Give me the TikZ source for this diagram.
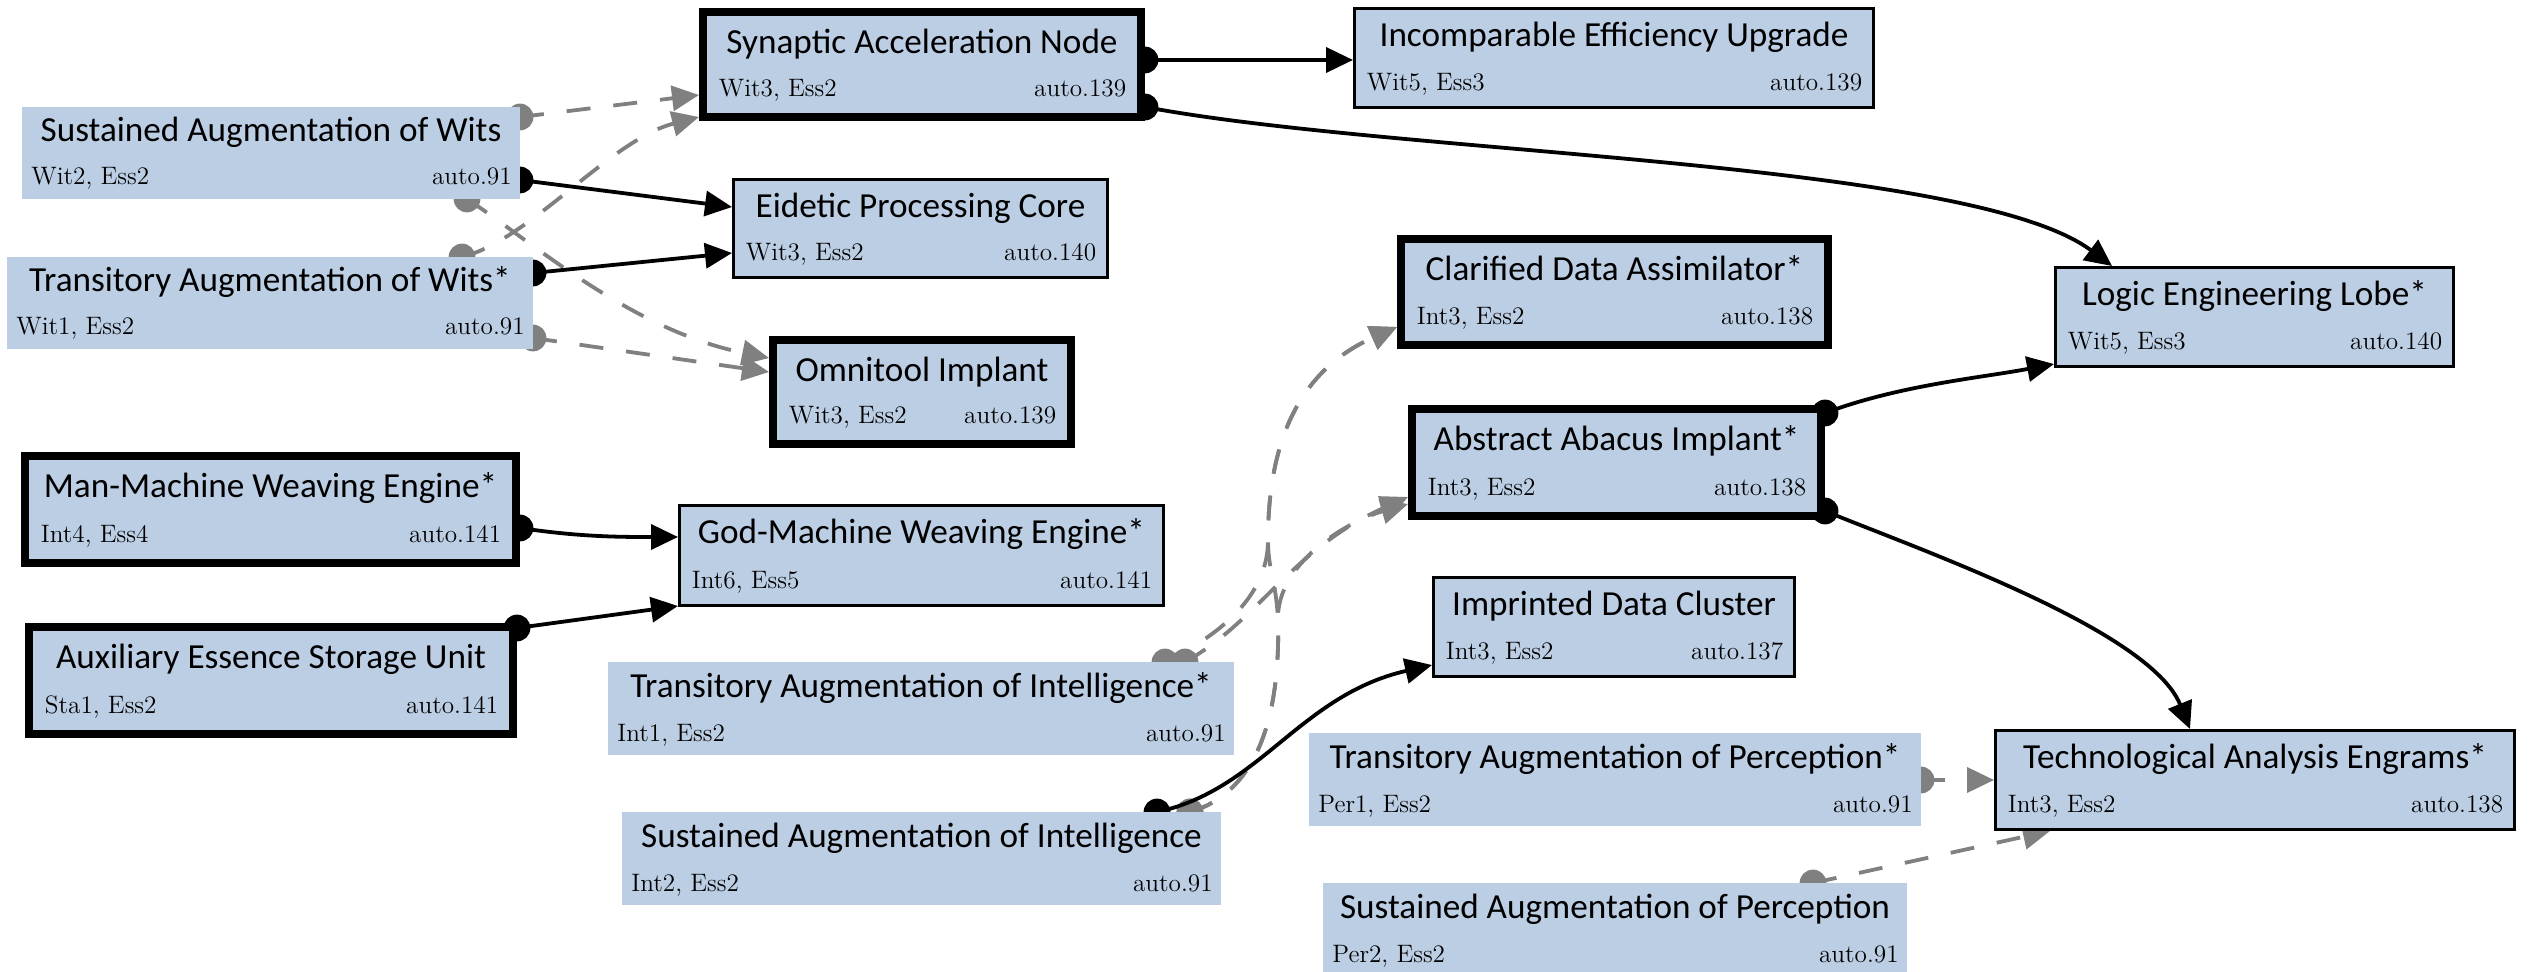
\documentclass[tikz,border=0pt]{standalone}
\usepackage{fontspec}
\newfontfamily\titlefont{Carlito}
\usetikzlibrary{arrows.meta}
\definecolor{boxfill}{RGB}{188,206,228}
\definecolor{edgegray}{RGB}{128,128,128}
\pgfdeclarelayer{bg}
\pgfsetlayers{bg,main}

\tikzset{
  box0/.style={fill=boxfill, draw=none, inner sep=0pt, outer sep=0pt},
  box3/.style={fill=boxfill, draw=black, line width=1.5pt, inner sep=0pt},
  box8/.style={fill=boxfill, draw=black, line width=4pt, inner sep=0pt},
  ttl/.style={inner sep=0pt, font=\titlefont\fontsize{17.6pt}{20pt}\selectfont},
  sub/.style={inner sep=0pt, font=\fontsize{12.6pt}{14pt}\selectfont},
  kedge/.style={draw=black, line width=1.9pt, -{Triangle[length=13.5pt,width=12.5pt]}},
  gedge/.style={draw=edgegray, line width=1.9pt, dash pattern=on 12pt off 11.5pt,
                -{Triangle[length=13.5pt,width=12.5pt]}},
}

% \blk{name}{border px: 0, 3 or 8}{x1}{y1}{x2}{y2}{title}{left note}{right note}
\newcommand\blk[9]{%
  \ifcase#2 \def\bxpad{0}\or\or\or\def\bxpad{4.5}\or\or\or\or\or\def\bxpad{10.5}\fi
  \pgfmathsetmacro\bxw{(#5-#3-#2)*0.5}%
  \pgfmathsetmacro\bxh{(#6-#4-#2)*0.5}%
  \node[box#2, minimum width=\bxw pt, minimum height=\bxh pt] (#1) at ({(#3+#5)/2},{(#4+#6)/2}) {};
  \node[ttl, anchor=base] (#1-t) at ({(#3+#5)/2},{#4+35+\bxpad}) {#7};
  \node[sub, anchor=base west] (#1-l) at ({#3+9+\bxpad},{#6-14-\bxpad}) {#8};
  \node[sub, anchor=base east] (#1-r) at ({#5-8-\bxpad},{#6-14-\bxpad}) {#9};
}

% \lnk{edge style}{tail dot colour}{start point}{rest of path}
\newcommand\lnk[4]{%
  \draw[#1] #3 #4;
  \fill[#2] #3 circle[radius=6.7pt];
}

\begin{document}
\begin{tikzpicture}[x=0.5pt, y=-0.5pt]
\useasboundingbox (0,0) rectangle (2532,972);
\begin{pgfonlayer}{bg}
  \fill[white] (0,0) rectangle (2532,972);
\end{pgfonlayer}

% upgrade blocks
\blk{syn}{8}{699}{8}{1145}{121}{Synaptic Acceleration Node}{Wit3, Ess2}{auto.139}
\blk{ieu}{3}{1353}{7}{1875}{109}{Incomparable Efficiency Upgrade}{Wit5, Ess3}{auto.139}
\blk{saw}{0}{22}{107}{520}{199}{Sustained Augmentation of Wits}{Wit2, Ess2}{auto.91}
\blk{epc}{3}{732}{178}{1109}{279}{Eidetic Processing Core}{Wit3, Ess2}{auto.140}
\blk{taw}{0}{7}{257}{533}{349}{Transitory Augmentation of Wits*}{Wit1, Ess2}{auto.91}
\blk{cda}{8}{1397}{235}{1832}{349}{Clarified Data Assimilator*}{Int3, Ess2}{auto.138}
\blk{lel}{3}{2054}{266}{2455}{368}{Logic Engineering Lobe*}{Wit5, Ess3}{auto.140}
\blk{omi}{8}{769}{336}{1075}{448}{Omnitool Implant}{Wit3, Ess2}{auto.139}
\blk{mmw}{8}{21}{452}{520}{567}{Man-Machine Weaving Engine*}{Int4, Ess4}{auto.141}
\blk{aai}{8}{1408}{405}{1825}{520}{Abstract Abacus Implant*}{Int3, Ess2}{auto.138}
\blk{gmw}{3}{678}{504}{1165}{607}{God-Machine Weaving Engine*}{Int6, Ess5}{auto.141}
\blk{aes}{8}{25}{623}{517}{738}{Auxiliary Essence Storage Unit}{Sta1, Ess2}{auto.141}
\blk{tai}{0}{608}{662}{1234}{755}{Transitory Augmentation of Intelligence*}{Int1, Ess2}{auto.91}
\blk{idc}{3}{1432}{576}{1796}{678}{Imprinted Data Cluster}{Int3, Ess2}{auto.137}
\blk{sai}{0}{622}{812}{1221}{905}{Sustained Augmentation of Intelligence}{Int2, Ess2}{auto.91}
\blk{tap}{0}{1309}{733}{1921}{826}{Transitory Augmentation of Perception*}{Per1, Ess2}{auto.91}
\blk{tae}{3}{1994}{729}{2516}{831}{Technological Analysis Engrams*}{Int3, Ess2}{auto.138}
\blk{sap}{0}{1323}{883}{1907}{976}{Sustained Augmentation of Perception}{Per2, Ess2}{auto.91}

\begin{pgfonlayer}{bg}
  % wits
  \lnk{gedge}{edgegray}{(saw.east |- 0,117)}{-- (syn.west |- 0,95)}
  \lnk{gedge}{edgegray}{(taw.north -| 462,0)}{.. controls (530,240) and (610,140) .. (syn.west |- 0,117)}
  \lnk{gedge}{edgegray}{(saw.south -| 467,0)}{.. controls (530,240) and (630,330) .. (omi.west |- 0,358)}
  \lnk{gedge}{edgegray}{(taw.east |- 0,338)}{-- (omi.west |- 0,372)}
  \lnk{kedge}{black}{(saw.east |- 0,180)}{-- (epc.west |- 0,207)}
  \lnk{kedge}{black}{(taw.east |- 0,273)}{-- (epc.west |- 0,253)}
  \lnk{kedge}{black}{(syn.east |- 0,60)}{-- (ieu.west |- 0,60)}
  \lnk{kedge}{black}{(syn.east |- 0,107)}{.. controls (1400,155) and (1970,160) .. (lel.north -| 2112,0)}
  % intelligence
  \lnk{kedge}{black}{(aai.east |- 0,413)}{.. controls (1900,385) and (1980,378) .. (lel.west |- 0,364)}
  \lnk{kedge}{black}{(aai.east |- 0,511)}{.. controls (1920,550) and (2150,630) .. (tae.north -| 2190,0)}
  \lnk{kedge}{black}{(mmw.east |- 0,528)}{.. controls (580,537) and (620,537) .. (gmw.west |- 0,537)}
  \lnk{kedge}{black}{(aes.east |- 0,628)}{-- (gmw.west |- 0,606)}
  \lnk{gedge}{edgegray}{(tai.north -| 1165,0)}{.. controls (1230,630) and (1268,590) .. (1268,540)
      .. controls (1268,440) and (1300,370) .. (cda.west |- 0,327)}
  \lnk{gedge}{edgegray}{(tai.north -| 1185,0)}{.. controls (1260,620) and (1290,550) .. (aai.west |- 0,497)}
  \lnk{gedge}{edgegray}{(sai.north -| 1190,0)}{.. controls (1265,790) and (1280,700) .. (1278,620)
      .. controls (1276,580) and (1268,570) .. (1268,540)
      .. controls (1268,440) and (1300,370) .. (cda.west |- 0,327)}
  \lnk{gedge}{edgegray}{(sai.north -| 1190,0)}{.. controls (1265,790) and (1280,700) .. (1278,620)
      .. controls (1276,565) and (1345,522) .. (aai.west |- 0,504)}
  \lnk{kedge}{black}{(sai.north -| 1157,0)}{.. controls (1260,790) and (1300,695) .. (idc.west |- 0,665)}
  % perception
  \lnk{gedge}{edgegray}{(tap.east |- 0,780)}{-- (tae.west |- 0,780)}
  \lnk{gedge}{edgegray}{(sap.north -| 1813,0)}{-- (tae.south -| 2050,0)}
\end{pgfonlayer}
\end{tikzpicture}
\end{document}
